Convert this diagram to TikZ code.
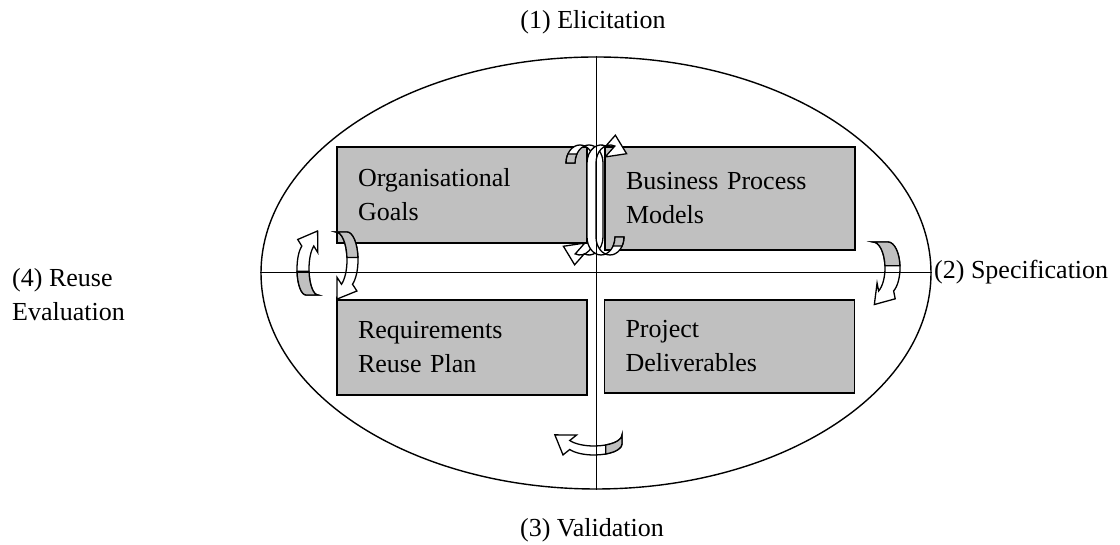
\documentclass[tikz,border=0pt]{standalone}
\usepackage{fontspec}
\setmainfont{Liberation Serif}
\usetikzlibrary{shapes.geometric}
\definecolor{boxgrey}{RGB}{192,192,192}
\newcommand{\headw}{12}
\newcommand{\headl}{18}
\tikzset{
  stage/.style={draw, line width=1.4pt, fill=boxgrey, minimum width=250pt,
    text width=208pt, inner xsep=21pt, align=left, font=\fontsize{26}{34}\selectfont},
  phase/.style={inner sep=0pt, align=left, font=\fontsize{26}{34}\selectfont},
  band/.style={line width=1.3pt, fill=white},
  bandback/.style={line width=1.3pt, fill=boxgrey},
}
% curved block arrow: centre, x radius, y radius, stretch, width, tail, head, back face end
\NewDocumentCommand{\bentarrow}{O{}mmmmmmmm}{%
\begin{scope}[shift={(#2)},#1]
\pgfmathsetmacro{\tx}{#3*sin(#8)}%
\pgfmathsetmacro{\ty}{-#4*cos(#8)}%
\pgfmathsetmacro{\ux}{\tx/veclen(\tx,\ty)}%
\pgfmathsetmacro{\uy}{\ty/veclen(\tx,\ty)}%
\pgfmathsetmacro{\mx}{#3*cos(#8)+#6/2}%
\pgfmathsetmacro{\my}{#4*sin(#8)-#5}%
\pgfmathsetmacro{\ax}{#3*cos(#7)}%
\pgfmathsetmacro{\ay}{#4*sin(#7)+#5}%
\pgfmathsetmacro{\gx}{#3*cos(#9)}%
\pgfmathsetmacro{\gy}{#4*sin(#9)+#5}%
\coordinate (tip) at ({\mx+\headl*(\ux)},{\my+\headl*(\uy)});
\coordinate (wout) at ({\mx-\headw*(\uy)},{\my+\headw*(\ux)});
\coordinate (win) at ({\mx+\headw*(\uy)},{\my-\headw*(\ux)});
\filldraw[band] (\ax,\ay) -- ++(#6,0)
  arc[start angle=#7, end angle=0, x radius=#3, y radius=#4] -- ++(0,-2*#5)
  arc[start angle=0, end angle=#8, x radius=#3, y radius=#4]
  -- (wout) -- (tip) -- (win) -- ({\mx-#6/2},\my)
  arc[start angle=#8, end angle=0, x radius=#3, y radius=#4] -- ++(0,2*#5)
  arc[start angle=0, end angle=#7, x radius=#3, y radius=#4] -- cycle;
\filldraw[bandback] (\ax,\ay) -- ++(#6,0)
  arc[start angle=#7, end angle=#9, x radius=#3, y radius=#4] -- (\gx,\gy)
  arc[start angle=#9, end angle=#7, x radius=#3, y radius=#4] -- cycle;
\end{scope}%
}

\begin{document}
\begin{tikzpicture}[x=1pt,y=1pt]
    \useasboundingbox (0,0) rectangle (1120,545);
    \node (oval) [ellipse, draw, line width=1.4pt, minimum width=670pt, minimum height=432pt] at (596,272) {};

    % Quadrants.
    \node (goals) [stage, minimum height=96pt] at (462,350) {Organisational\\Goals};
    \node (models) [stage, minimum height=103pt] at (730,346.5) {Business Process\\Models};
    \node (plan) [stage, minimum height=95pt] at (462,197.5) {Requirements\\Reuse Plan};
    \node (deliv) [stage, minimum height=93pt] at (729.5,198.5) {Project\\Deliverables};

    % Cycle arrows.
    \bentarrow{580,345}{14}{18}{37}{9}{180}{-110}{150}
    \bentarrow[rotate=180]{610,345}{14}{18}{37}{9}{180}{-110}{150}
    \bentarrow{873,277}{12}{26}{0}{15}{90}{-62}{5}
    \bentarrow[rotate=-90]{594,110}{11}{28}{0}{9}{90}{-60}{25}
    \bentarrow{336,285}{11}{28}{0}{11}{90}{-60}{5}
    \bentarrow[rotate=180]{318,276}{9}{26}{0}{12}{90}{-62}{5}

    \draw[line width=1pt] (oval.north) -- (oval.south);
    \draw[line width=1pt] (oval.west) -- (oval.east);

    \node (elic) [phase] at (593,523) {(1) Elicitation};
    \node (spec) [phase, anchor=west] at (934,273) {(2) Specification};
    \node (valid) [phase] at (592,15) {(3) Validation};
    \node (reuse) [phase, anchor=west] at (12,250) {(4) Reuse\\Evaluation};
\end{tikzpicture}
\end{document}
